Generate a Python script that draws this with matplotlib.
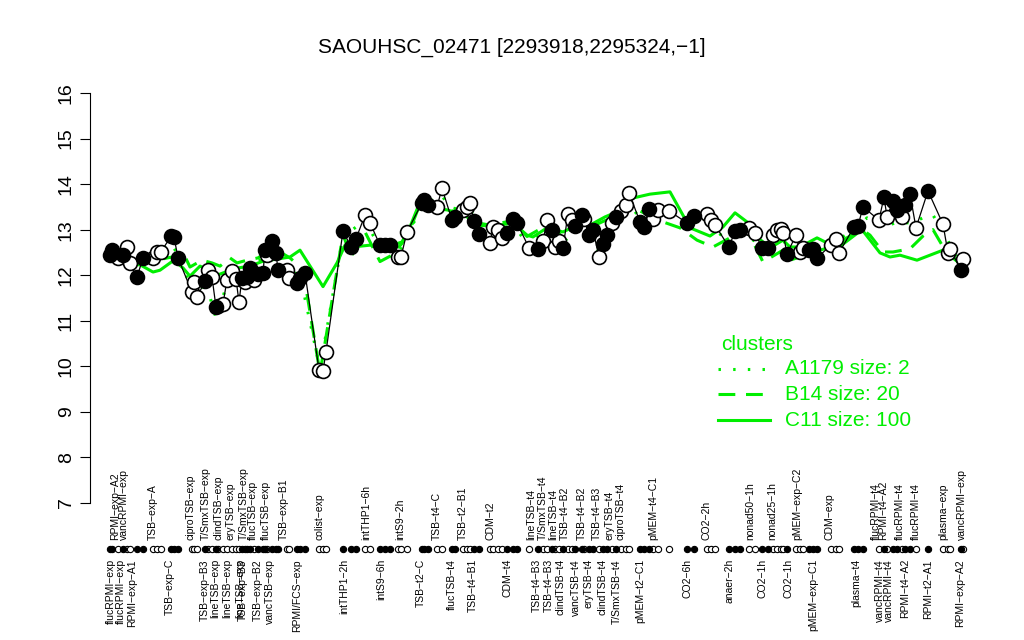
import numpy as np
import matplotlib.pyplot as plt
from matplotlib.lines import Line2D

plt.rcParams['font.family'] = ['Liberation Sans', 'DejaVu Sans']

# sample positions along the x axis (plot units), expression and marker style (1 = filled)
sample_x = [110, 112, 118, 123, 127, 130, 137, 143, 153, 157, 161, 171, 174, 178,
            192, 194, 197, 205, 208, 212, 216, 218, 223, 227, 232, 236, 239, 242,
            245, 247, 250, 254, 258, 263, 265, 267, 272, 276, 278, 287, 289, 297,
            300, 305, 319, 323, 326,
            343, 351, 356, 365, 370, 380, 385, 390, 398, 401, 407, 422, 424, 428,
            437, 442, 452, 455, 463, 467, 470, 474, 479, 490, 493, 498, 502, 507,
            513, 517, 529, 538, 543, 547, 552, 555,
            559, 563, 568, 572, 575, 582, 584, 589, 593, 599, 603, 607, 612, 616,
            621, 626, 629, 640, 644, 649, 653, 658, 669, 687, 694, 707, 711, 715,
            729, 735, 740, 749, 755, 762, 768, 773, 777, 781, 783, 787,
            796, 800, 803, 809, 813, 817, 831, 836, 839, 854, 858, 863, 879, 884,
            887, 893, 897, 902, 905, 910, 916, 928, 943, 948, 950, 961, 963]
sample_y = [12.44, 12.55, 12.38, 12.44, 12.62, 12.27, 11.96, 12.38, 12.38, 12.51, 12.51, 12.86, 12.84, 12.38,
            11.63, 11.85, 11.52, 11.87, 12.11, 11.96, 11.30, 11.32, 11.37, 11.90, 12.10, 11.92, 11.41, 11.94,
            11.85, 11.96, 12.16, 11.90, 12.03, 12.05, 12.55, 12.44, 12.75, 12.49, 12.11, 12.11, 11.94, 11.83,
            11.94, 12.05, 9.92, 9.90, 10.32,
            12.97, 12.62, 12.80, 13.32, 13.15, 12.66, 12.66, 12.66, 12.40, 12.40, 12.95, 13.59, 13.65, 13.54,
            13.50, 13.91, 13.21, 13.28, 13.43, 13.50, 13.59, 13.19, 12.90, 12.71, 13.06, 13.00, 12.82, 12.93,
            13.23, 13.15, 12.60, 12.58, 12.75, 13.21, 12.99, 12.62,
            12.75, 12.60, 13.35, 13.21, 13.08, 13.32, 13.23, 12.88, 12.99, 12.40, 12.69, 12.88, 13.15, 13.28,
            13.41, 13.54, 13.81, 13.17, 13.06, 13.45, 13.23, 13.43, 13.41, 13.15, 13.30, 13.35, 13.21, 13.10,
            12.62, 12.97, 12.99, 13.04, 12.93, 12.60, 12.60, 12.88, 12.99, 13.01, 12.93, 12.47,
            12.88, 12.51, 12.60, 12.55, 12.58, 12.38, 12.66, 12.80, 12.49, 13.06, 13.08, 13.50, 13.21, 13.72,
            13.28, 13.63, 13.43, 13.28, 13.54, 13.78, 13.04, 13.85, 13.12, 12.49, 12.58, 12.11, 12.36]
sample_filled = [1, 1, 0, 1, 0, 0, 1, 1, 0, 0, 0, 1, 1, 1,
                 0, 0, 0, 1, 0, 0, 1, 0, 0, 0, 0, 0, 0, 1,
                 0, 1, 1, 0, 1, 1, 1, 0, 1, 1, 1, 0, 0, 1,
                 1, 1, 0, 0, 0,
                 1, 1, 1, 0, 0, 1, 1, 1, 0, 0, 0, 1, 1, 1,
                 0, 0, 1, 1, 0, 0, 0, 1, 1, 0, 0, 0, 0, 1,
                 1, 1, 0, 1, 0, 0, 1, 0,
                 0, 1, 0, 0, 1, 1, 0, 1, 1, 0, 1, 1, 0, 1,
                 0, 0, 0, 1, 1, 1, 0, 0, 0, 1, 1, 0, 0, 0,
                 1, 1, 1, 0, 0, 1, 1, 0, 0, 0, 0, 1,
                 0, 0, 0, 1, 1, 1, 0, 0, 0, 1, 1, 1, 0, 1,
                 0, 1, 1, 0, 1, 1, 0, 1, 0, 0, 0, 1, 0]

# cluster mean profiles
c11_x = [110, 130, 140, 153, 160, 172, 177, 183, 190, 200, 210, 217, 223, 235, 250, 262, 270, 290, 300,
         323, 337, 345, 353, 370, 387, 402, 410, 418, 427, 448, 467, 477, 490, 500, 513, 527, 533, 547,
         563, 577, 590, 605, 617, 632, 650, 670, 690, 710, 723, 735, 747, 757, 770, 783, 790, 800, 817,
         827, 838, 862, 880, 890, 900, 917, 943, 962]
c11_y = [12.45, 12.23, 12.23, 12.07, 12.11, 12.30, 12.27, 12.16, 11.98, 12.20, 12.10, 12.00, 12.05, 12.15,
         12.20, 12.30, 12.33, 12.40, 12.55, 11.75, 12.27, 12.66, 12.62, 12.66, 12.62, 12.73, 13.06, 13.50,
         13.50, 13.43, 13.28, 13.10, 13.08, 13.10, 13.15, 12.88, 12.84, 13.04, 12.95, 13.10, 13.10, 13.28,
         13.39, 13.69, 13.78, 13.83, 13.04, 12.86, 13.06, 13.37, 13.17, 12.84, 12.60, 12.77, 12.62, 12.62,
         12.82, 12.71, 12.60, 13.00, 12.49, 12.40, 12.44, 12.33, 12.55, 12.22]
b14_x = [110, 130, 150, 172, 183, 190, 202, 212, 220, 230, 237, 247, 258, 273, 290, 303, 320, 343, 351,
         365, 380, 392, 402, 410, 418, 427, 448, 467, 477, 490, 513, 527, 547, 563, 577, 590, 605, 617,
         632, 650, 663, 680, 697, 713, 730, 747, 763, 783, 790, 830, 862, 870, 883, 893, 910, 923, 933,
         945, 960]
b14_y = [12.45, 12.30, 12.30, 12.40, 12.50, 12.18, 12.33, 12.27, 12.20, 12.38, 12.27, 12.33, 12.38, 12.60,
         12.38, 12.12, 9.85, 12.90, 12.40, 12.95, 12.30, 12.44, 12.70, 13.00, 13.45, 13.60, 13.50, 13.40,
         13.15, 13.10, 13.20, 12.85, 13.10, 12.85, 13.15, 13.05, 13.20, 13.25, 13.50, 13.30, 13.17, 13.04,
         12.77, 12.62, 12.82, 13.00, 12.29, 12.55, 12.33, 12.62, 13.00, 12.88, 12.51, 12.51, 12.58, 12.86,
         13.00, 12.55, 12.27]
a1179_x = [110, 130, 143, 171, 178, 197, 205, 216, 230, 239, 250, 265, 272, 278, 300, 320, 343, 365, 380,
           398, 407, 424, 442, 455, 470, 479, 493, 513, 529, 547, 563, 582, 599, 616, 629, 644, 658, 687,
           707, 729, 740, 762, 781, 788, 800, 817, 836, 858, 867, 885, 895, 912, 923, 933, 945, 961]
a1179_y = [12.40, 12.30, 12.30, 12.70, 12.45, 11.40, 11.90, 11.06, 12.00, 11.50, 12.10, 12.45, 12.65, 12.20,
           12.00, 9.95, 12.85, 13.20, 12.60, 12.40, 12.90, 13.55, 13.75, 13.30, 13.50, 12.90, 13.00, 13.15,
           12.60, 13.10, 12.70, 13.20, 12.50, 13.20, 13.60, 13.10, 13.35, 13.15, 13.20, 12.70, 12.95, 12.65,
           12.95, 12.50, 12.55, 12.45, 12.75, 13.05, 13.26, 13.06, 13.15, 13.15, 13.26, 13.32, 12.88, 12.20]

# condition labels above and below the sample strip
top_labels = ['RPMI-exp-A2', 'vancRPMI-exp', 'TSB-exp-A', 'ciproTSB-exp', 'T/SmxTSB-exp', 'clindTSB-exp',
              'eryTSB-exp', 'T/SmxTSB-exp', 'flucTSB-exp', 'flucTSB-exp', 'TSB-exp-B1', 'colist-exp',
              'intTHP1-6h', 'intS9-2h', 'TSB-t4-C', 'TSB-t2-B1', 'CDM-t2', 'lineTSB-t4', 'T/SmxTSB-t4',
              'lineTSB-t4', 'TSB-t4-B2', 'TSB-t4-B2', 'TSB-t4-B3', 'eryTSB-t4', 'ciproTSB-t4', 'pMEM-t4-C1',
              'CO2-2h', 'nonad50-1h', 'nonad25-1h', 'pMEM-exp-C2', 'CDM-exp', 'flucRPMI-t4', 'RPMI-t4-A2',
              'flucRPMI-t4', 'flucRPMI-t4', 'plasma-exp', 'vancRPMI-exp']
top_label_x = [115, 124, 153, 190, 206, 219, 231, 244, 253, 266, 284, 320,
               366, 400, 437, 463, 491, 531, 543, 553, 565, 582, 597, 610, 621, 653,
               707, 750, 772, 797, 830, 876, 883, 900, 916, 943, 962]
bottom_labels = ['flucRPMI-exp', 'flucRPMI-exp', 'RPMI-exp-A1', 'TSB-exp-C', 'TSB-exp-B3', 'lineTSB-exp',
                 'lineTSB-exp', 'lineTSB-exp', 'TSB-exp-B3', 'TSB-exp-B2', 'vancTSB-exp', 'RPMI/FCS-exp',
                 'intTHP1-2h', 'intS9-6h', 'TSB-t2-C', 'flucTSB-t4', 'TSB-t4-B1', 'CDM-t4', 'TSB-t4-B3',
                 'TSB-t4-B3', 'clindTSB-t4', 'vancTSB-t4', 'eryTSB-t4', 'clindTSB-t4', 'T/SmxTSB-t4',
                 'pMEM-t2-C1', 'CO2-6h', 'anaer-2h', 'CO2-1h', 'CO2-1h', 'pMEM-exp-C1', 'plasma-t4',
                 'vancRPMI-t4', 'vancRPMI-t4', 'RPMI-t4-A2', 'RPMI-t2-A1', 'RPMI-exp-A2']
bottom_label_x = [111, 121, 132, 170, 205, 215, 227, 240, 243, 258, 270, 297,
                  344, 381, 421, 452, 473, 508, 537, 549, 561, 576, 589, 603, 617,
                  640, 688, 730, 763, 789, 813, 856, 880, 889, 905, 928, 960]

green = '#00ee00'
dash = (0, (5.5, 3.5))
dots = (0, (0.8, 4))
W, H = 1024, 640
fig = plt.figure(figsize=(W / 100, H / 100), dpi=100)
# plot region in pixels: x 90..985, y 76.6..519.4
ax = fig.add_axes([90 / W, 1 - 519.4 / H, (985 - 90) / W, (519.4 - 76.6) / H])
ax.set_xlim(90, 985)
ax.set_ylim(6.64, 16.36)

ax.plot(c11_x, c11_y, color=green, lw=2.2, ls='-', zorder=2)
ax.plot(b14_x, b14_y, color=green, lw=2.2, ls=dash, zorder=2)
ax.plot(a1179_x, a1179_y, color=green, lw=2.2, ls=dots, zorder=2)

filled = np.array(sample_filled) == 1
xs = np.array(sample_x)
ys = np.array(sample_y)
ax.plot(xs, ys, color='black', lw=0.9, zorder=3)
ax.plot(xs[~filled], ys[~filled], 'o', ms=10, mfc='white', mec='black', mew=1.2, zorder=4)
ax.plot(xs[filled], ys[filled], 'o', ms=10, mfc='black', mec='black', mew=1.2, zorder=4)

# sample strip below the plot
strip_y = 5.99
ax.plot(xs[~filled], [strip_y] * (~filled).sum(), 'o', ms=4.5, mfc='white', mec='black', mew=0.8, clip_on=False)
ax.plot(xs[filled], [strip_y] * filled.sum(), 'o', ms=4.5, mfc='black', mec='black', mew=0.8, clip_on=False)

for lab, x in zip(top_labels, top_label_x):
    ax.text(x, 6.19, lab.replace('-', '\u2212'), rotation=90, ha='center', va='bottom', fontsize=7.5, clip_on=False)
for lab, x in zip(bottom_labels, bottom_label_x):
    ax.text(x, 5.77, lab.replace('-', '\u2212'), rotation=90, ha='center', va='top', fontsize=7.5, clip_on=False)

for s in ['top', 'right', 'bottom']:
    ax.spines[s].set_visible(False)
ax.spines['left'].set_bounds(7, 16)
ax.set_xticks([])
ax.set_yticks(range(7, 17))
ax.tick_params(axis='y', length=7, labelsize=14, pad=4)
for t in ax.get_yticklabels():
    t.set_rotation(90)
    t.set_va('center')

fig.text(0.5, 1 - 47 / H, 'SAOUHSC_02471 [2293918,2295324,\u22121]', ha='center', va='center', fontsize=15)

# legend
fig.text(757 / W, 1 - 345 / H, 'clusters', color=green, ha='center', va='center', fontsize=15)
leg_rows = [('A1179 size: 2', dots, 369), ('B14 size: 20', dash, 394), ('C11 size: 100', '-', 420)]
for txt, style, py in leg_rows:
    fig.add_artist(Line2D([718 / W, 770 / W], [1 - py / H, 1 - py / H], color=green, lw=2.2, ls=style))
    fig.text(785 / W, 1 - py / H, txt, color=green, ha='left', va='center', fontsize=15)

plt.savefig('out.png', dpi=100)
